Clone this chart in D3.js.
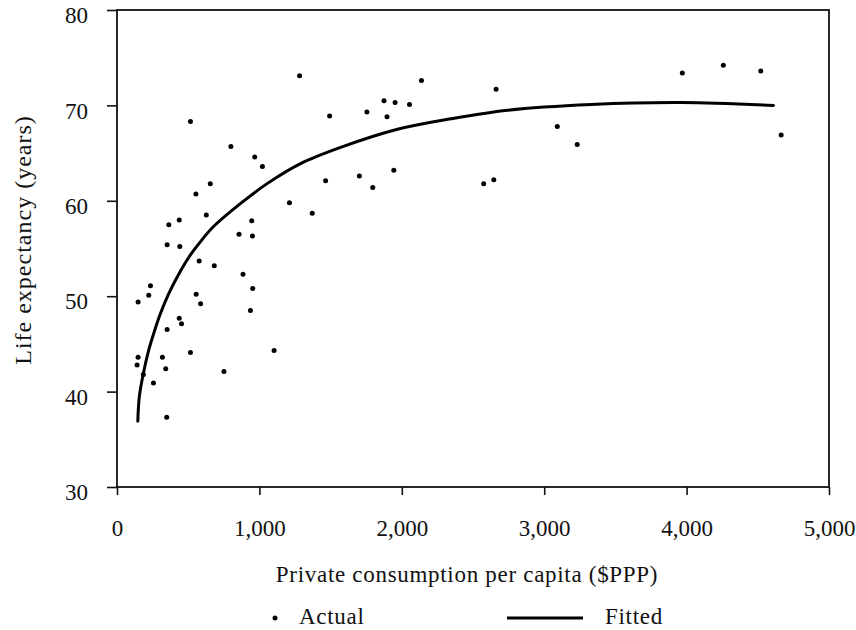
<!DOCTYPE html>
<html>
<head>
<meta charset="utf-8">
<script src="https://cdn.jsdelivr.net/npm/d3@7"></script>
<style>
  html, body { margin: 0; padding: 0; background: #fff; }
  text { font-family: "Liberation Serif", "Times New Roman", serif; fill: #111; }
</style>
</head>
<body>
<svg id="chart" width="856" height="630"></svg>
<script>
// Actual data points: private consumption per capita ($PPP) and life expectancy (years)
const actualX = [1282, 1493, 516, 800, 967, 1021, 1465, 655, 554, 1211, 1371, 627, 437, 364, 946, 857, 951, 352, 441, 577,
                 683, 885, 953, 235, 223, 148, 556, 587, 937, 437, 453, 352, 516, 1103, 148, 319, 141, 342, 185, 751,
                 256, 349, 2138, 2662, 1875, 1953, 2054, 1755, 1896, 3092, 3232, 1702, 1944, 1796, 2575, 2646, 3970, 4258, 4521, 4664];
const actualY = [73.1, 68.9, 68.3, 65.7, 64.6, 63.6, 62.1, 61.8, 60.7, 59.8, 58.7, 58.5, 58.0, 57.5, 57.9, 56.5, 56.3, 55.4, 55.2, 53.7,
                 53.2, 52.3, 50.8, 51.1, 50.1, 49.4, 50.2, 49.2, 48.5, 47.7, 47.1, 46.5, 44.1, 44.3, 43.6, 43.6, 42.8, 42.4, 41.8, 42.1,
                 40.9, 37.3, 72.6, 71.7, 70.5, 70.3, 70.1, 69.3, 68.8, 67.8, 65.9, 62.6, 63.2, 61.4, 61.8, 62.2, 73.4, 74.2, 73.6, 66.9];

// Fitted curve
const fittedX = [146, 157, 185, 220, 256, 303, 361, 444, 519, 585, 678, 866, 1054, 1289, 1570, 1970, 2345, 2744, 3331, 3965, 4610];
const fittedY = [36.9, 39.5, 41.9, 44.2, 46.0, 48.1, 50.2, 52.6, 54.4, 55.7, 57.3, 59.7, 61.8, 63.9, 65.6, 67.5, 68.6, 69.5, 70.1, 70.3, 70.0];

const xTicks = [0, 1000, 2000, 3000, 4000, 5000];
const yTicks = [30, 40, 50, 60, 70, 80];
const xTitle = "Private consumption per capita ($PPP)";
const yTitle = "Life expectancy (years)";
const legendLabels = ["Actual", "Fitted"];

const svg = d3.select("#chart");
const L = 117, R = 829, T = 10, B = 487;

const x = d3.scaleLinear().domain([0, 5000]).range([L, R]);
const y = d3.scaleLinear().domain([30, 80]).range([B, T]);

// Axes
const xAxis = svg.append("g").attr("transform", `translate(0,${B})`)
  .call(d3.axisBottom(x).tickValues(xTicks).tickSize(8).tickFormat(d3.format(",")));
xAxis.select(".domain").remove();
xAxis.selectAll(".tick line").attr("stroke", "#111").attr("stroke-width", 1.6);
xAxis.selectAll(".tick text").attr("dy", null).attr("y", 49)
  .style("font-size", "23px").style("font-family", '"Liberation Serif", serif').attr("fill", "#111");

const yAxis = svg.append("g").attr("transform", `translate(${L},0)`)
  .call(d3.axisLeft(y).tickValues(yTicks).tickSize(10).tickPadding(19));
yAxis.select(".domain").remove();
yAxis.selectAll(".tick line").attr("stroke", "#111").attr("stroke-width", 1.6);
yAxis.selectAll(".tick text").attr("dy", "0.55em")
  .style("font-size", "23px").style("font-family", '"Liberation Serif", serif').attr("fill", "#111");

// Frame
svg.append("rect").attr("x", L).attr("y", T).attr("width", R - L).attr("height", B - T)
  .attr("fill", "none").attr("stroke", "#111").attr("stroke-width", 1.8);

// Fitted line
const fitted = fittedX.map((d, i) => [d, fittedY[i]]);
svg.append("path").datum(fitted)
  .attr("fill", "none").attr("stroke", "#000").attr("stroke-width", 3)
  .attr("stroke-linecap", "round")
  .attr("d", d3.line().x(d => x(d[0])).y(d => y(d[1])).curve(d3.curveCatmullRom.alpha(0.5)));

// Points
const pts = actualX.map((d, i) => [d, actualY[i]]);
svg.append("g").selectAll("circle").data(pts).join("circle")
  .attr("cx", d => x(d[0])).attr("cy", d => y(d[1])).attr("r", 2.5).attr("fill", "#000");

// Axis titles
svg.append("text").attr("x", 467).attr("y", 582).attr("text-anchor", "middle")
  .style("font-size", "23px").style("letter-spacing", "0.7px").text(xTitle);
svg.append("text").attr("transform", "translate(31,240) rotate(-90)").attr("text-anchor", "middle")
  .style("font-size", "24px").style("letter-spacing", "1px").text(yTitle);

// Legend
svg.append("circle").attr("cx", 275).attr("cy", 618).attr("r", 2.5).attr("fill", "#000");
svg.append("text").attr("x", 299).attr("y", 624).style("font-size", "23px").style("letter-spacing", "0.7px").text(legendLabels[0]);
svg.append("line").attr("x1", 507).attr("x2", 583).attr("y1", 618).attr("y2", 618)
  .attr("stroke", "#000").attr("stroke-width", 3);
svg.append("text").attr("x", 605).attr("y", 624).style("font-size", "23px").style("letter-spacing", "0.7px").text(legendLabels[1]);
</script>
</body>
</html>
